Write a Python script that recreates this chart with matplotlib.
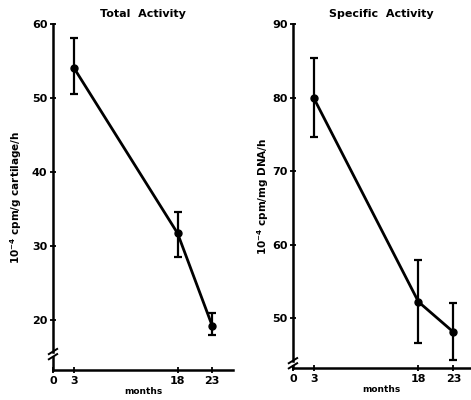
import matplotlib
matplotlib.use("Agg")
import matplotlib.pyplot as plt

months = [3, 18, 23]
total_vals = [54.1, 31.7, 19.2]
total_err_lo = [3.6, 3.2, 1.3]
total_err_hi = [4.0, 2.9, 1.7]
spec_vals = [79.9, 52.2, 48.1]
spec_err_lo = [5.3, 5.6, 3.8]
spec_err_hi = [5.5, 5.7, 4.0]
xticks = [0, 3, 18, 23]
total_yticks = [20, 30, 40, 50, 60]
spec_yticks = [50, 60, 70, 80, 90]

plt.rcParams['font.family'] = ['DejaVu Sans']
plt.rcParams['font.weight'] = 'bold'

fig = plt.figure(figsize=(4.71, 4.0), dpi=100)
ax1 = fig.add_axes([0.1125, 0.075, 0.382, 0.865])
ax2 = fig.add_axes([0.622, 0.08, 0.376, 0.86])


def style(ax, vals, lo, hi, yticks, ylim, xlim, brk, title, ylabel, lpad):
    ax.errorbar(months, vals, yerr=[lo, hi], color='black', lw=2.0,
                marker='o', ms=5, capsize=3, elinewidth=1.6, capthick=1.6,
                clip_on=False, zorder=3)
    ax.set_xlim(*xlim)
    ax.set_ylim(*ylim)
    ax.set_xticks(xticks)
    ax.set_yticks(yticks)
    ax.spines['top'].set_visible(False)
    ax.spines['right'].set_visible(False)
    for s in ('left', 'bottom'):
        ax.spines[s].set_linewidth(1.8)
    ax.spines['left'].set_bounds(brk[1], ylim[1])
    ax.plot([0, 0], [ylim[0], brk[0]], color='black', lw=1.8,
            clip_on=False)
    dx = 0.6
    for yb in brk:
        ax.plot([-dx, dx], [yb - 0.35, yb + 0.35], color='black', lw=1.4,
                clip_on=False)
    ax.tick_params(direction='inout', length=5, width=1.3, labelsize=8,
                   pad=1.5)
    for lab in ax.get_xticklabels() + ax.get_yticklabels():
        lab.set_fontweight('bold')
    ax.set_title(title, fontsize=8, fontweight='bold', pad=5)
    ax.set_xlabel('months', fontsize=6.5, fontweight='bold', labelpad=1)
    ax.set_ylabel(ylabel, fontsize=7.5, fontweight='bold', labelpad=lpad)


style(ax1, total_vals, total_err_lo, total_err_hi, total_yticks,
      (13.2, 60), (0, 26), (15.0, 15.7), 'Total  Activity',
      r'$\mathbf{10^{-4}}$ cpm/g cartilage/h', 6)
style(ax2, spec_vals, spec_err_lo, spec_err_hi, spec_yticks,
      (43.2, 90), (0, 25.4), (43.5, 44.2), 'Specific  Activity',
      r'$\mathbf{10^{-4}}$ cpm/mg DNA/h', 0.5)

fig.savefig('out.png', dpi=100)
